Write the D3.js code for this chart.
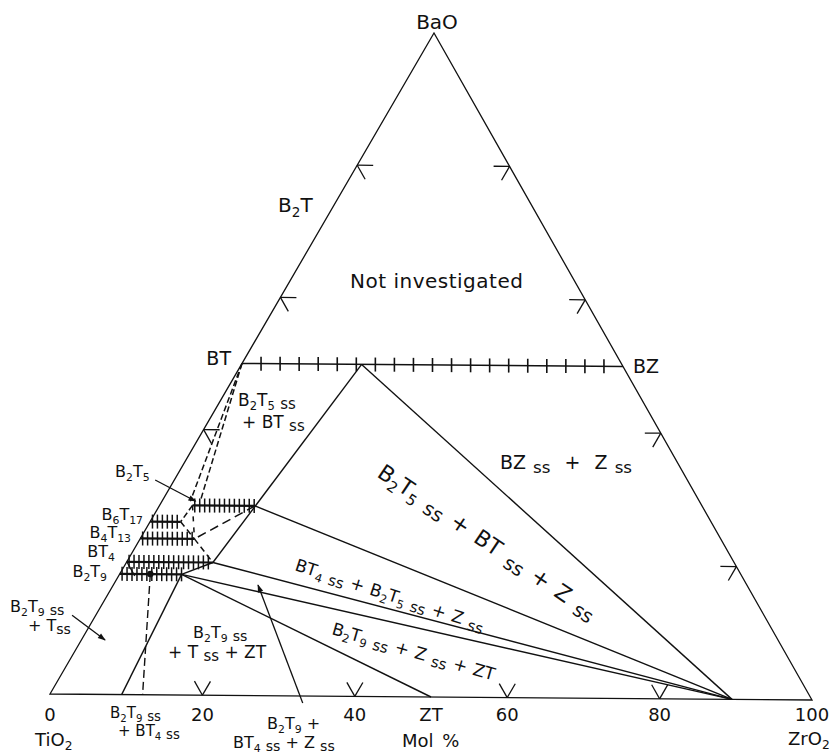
<!DOCTYPE html>
<html>
<head>
<meta charset="utf-8">
<script src="https://cdn.jsdelivr.net/npm/d3@7"></script>
<style>
  html, body { margin: 0; padding: 0; background: #fff; }
  svg text { font-family: "DejaVu Sans", "Liberation Sans", sans-serif; fill: #111; white-space: pre; }
</style>
</head>
<body>
<svg id="chart" width="836" height="756"></svg>
<script>
// ---- Data: compositions in mol% BaO and mol% ZrO2 (TiO2 is the balance) ----

// Bottom axis (ZrO2 content along the TiO2–ZrO2 join)
const axisValues = [0, 20, 40, 50, 60, 80, 100];
const axisLabels = ["0", "20", "40", "ZT", "60", "80", "100"];
// Grid stubs every 20 mol% on each side
const gridValues = [20, 40, 60, 80];

// Binary compounds on the BaO–TiO2 join and their ZrO2 solid-solution ranges
const phaseNames = ["B2T5", "B6T17", "B4T13", "BT4", "B2T9"];
const phaseBaO   = [28.57, 26.09, 23.53, 20.0, 18.18];
const phaseZrMin = [4.3, 0, 0, 0, 0];
const phaseZrMax = [12.5, 4.0, 7.1, 11.3, 8.1];

// Key compositions [BaO, ZrO2]
const ptBT = [50, 0];
const ptBZ = [50, 50];
const ptBTss = [50, 15.7];      // limit of BT solid solution
const ptZss = [0, 89.5];        // limit of ZrO2 solid solution
const ptZT = [0, 50];
const ptB2T9Base = [0, 9.4];
const ptB2T9Mid = [18.18, 4.0];
const ptDashBase = [0, 12.15];
const ptBTdashA = [29.2, 3.7];
const ptBTdashB = [29.2, 5.0];

// BT–BZ solid solution: ticks every 2.5 mol% ZrO2
const bzJoinTicks = d3.range(2.5, 50, 2.5);

// ---- Geometry ----
const cornerTiO2 = [50, 694], cornerZrO2 = [812, 700], cornerBaO = [434, 33];
const zScale = d3.scaleLinear().domain([0, 100]).range([cornerTiO2, cornerZrO2]);
const bScale = d3.scaleLinear().domain([0, 100])
  .range([[0, 0], [cornerBaO[0] - cornerTiO2[0], cornerBaO[1] - cornerTiO2[1]]]);
function proj(c) { const p = zScale(c[1]), o = bScale(c[0]); return [p[0] + o[0], p[1] + o[1]]; }

const phaseStart = i => [phaseBaO[i], phaseZrMin[i]];
const phaseEnd = i => [phaseBaO[i], phaseZrMax[i]];
const idx = n => phaseNames.indexOf(n);

const svg = d3.select("#chart");
const line = d3.line();
const ink = "#111";

svg.append("defs").append("marker")
  .attr("id", "arrow").attr("viewBox", "0 0 10 10").attr("refX", 9).attr("refY", 5)
  .attr("markerWidth", 11).attr("markerHeight", 8).attr("markerUnits", "userSpaceOnUse")
  .attr("orient", "auto")
  .append("path").attr("d", "M0,1.5 L10,5 L0,8.5 Z").attr("fill", ink);

function seg(a, b, opts = {}) {
  return svg.append("path")
    .attr("d", line([proj(a), proj(b)]))
    .attr("fill", "none").attr("stroke", ink)
    .attr("stroke-width", opts.w || 1.4)
    .attr("stroke-dasharray", opts.dash || null)
    .attr("marker-end", opts.arrow ? "url(#arrow)" : null);
}

// Triangle outline
svg.append("path")
  .attr("d", line([proj([0, 0]), proj([0, 100]), proj([100, 0])]) + "Z")
  .attr("fill", "none").attr("stroke", ink).attr("stroke-width", 1.3);

// Grid stubs on the three sides
const s = 2.1;
gridValues.forEach(v => {
  seg([v, 0], [v, s], { w: 1.3 });            // left side
  seg([v, 0], [v - s, s], { w: 1.3 });
  seg([v, 100 - v], [v, 100 - v - s], { w: 1.3 }); // right side
  seg([v, 100 - v], [v - s, 100 - v], { w: 1.3 });
  seg([0, v], [s, v - s], { w: 1.3 });        // base
  seg([0, v], [s, v], { w: 1.3 });
});

// BT–BZ join with solid-solution ticks
seg(ptBT, ptBZ, { w: 1.5 });
bzJoinTicks.forEach(z => {
  const p = proj([50, z]);
  svg.append("line").attr("x1", p[0]).attr("x2", p[0]).attr("y1", p[1] - 7).attr("y2", p[1] + 7)
    .attr("stroke", ink).attr("stroke-width", 1.6);
});

// Solid phase boundaries and tie lines
seg(ptBTss, phaseEnd(idx("BT4")));
seg(ptBTss, ptZss);
seg(phaseEnd(idx("B2T5")), ptZss);
seg(phaseEnd(idx("BT4")), ptZss);
seg(phaseEnd(idx("BT4")), phaseEnd(idx("B2T9")));
seg(phaseEnd(idx("B2T9")), ptZss);
seg(phaseEnd(idx("B2T9")), ptZT);
seg(phaseEnd(idx("B2T9")), ptB2T9Base);

// Dashed (tentative) boundaries
seg(ptBT, ptBTdashA, { dash: "6,3", w: 1.5 });
seg(ptBT, ptBTdashB, { dash: "6,3", w: 1.5 });
seg(phaseStart(idx("B2T5")), phaseEnd(idx("B6T17")), { dash: "6,3", w: 1.5 });
seg(phaseEnd(idx("B6T17")), phaseEnd(idx("B4T13")), { dash: "6,4", w: 1.5 });
seg(phaseStart(idx("B2T5")), phaseEnd(idx("B4T13")), { dash: "5,6", w: 1.5 });
seg(phaseEnd(idx("B2T5")), phaseEnd(idx("B4T13")), { dash: "9,5", w: 1.5 });
seg(phaseEnd(idx("B4T13")), phaseEnd(idx("BT4")), { dash: "6,4", w: 1.5 });
seg(ptB2T9Mid, ptDashBase, { dash: "8,4", w: 1.4 });

// Solid-solution ranges of the titanates (hatched bars)
phaseNames.forEach((n, i) => {
  seg(phaseStart(i), phaseEnd(i), { w: 2.2 });
  d3.range(phaseZrMin[i] + 0.3, phaseZrMax[i] + 0.01, 0.65).forEach(z => {
    const p = proj([phaseBaO[i], z]);
    svg.append("line").attr("x1", p[0]).attr("x2", p[0]).attr("y1", p[1] - 7).attr("y2", p[1] + 7)
      .attr("stroke", ink).attr("stroke-width", 1.5);
  });
});
{
  const p = proj(ptB2T9Mid);
  svg.append("circle").attr("cx", p[0]).attr("cy", p[1]).attr("r", 3.2).attr("fill", ink);
}

// Pointer arrows from labels
seg([32.35, -2.5], [29.2, 4.4], { arrow: true, w: 1.3 });
seg([11.9, -3.1], [8.2, 3.1], { arrow: true, w: 1.3 });
seg([-1.06, 33.7], [16.66, 18.9], { arrow: true, w: 1.3 });

// ---- Text ----
function rich(x, y, markup, size, opts = {}) {
  const t = svg.append("text").attr("x", x).attr("y", y).attr("font-size", size)
    .attr("text-anchor", opts.anchor || "start");
  if (opts.rotate) t.attr("transform", `rotate(${opts.rotate},${x},${y})`);
  if (opts.ls) t.attr("letter-spacing", opts.ls);
  if (opts.ws) t.attr("word-spacing", opts.ws);
  const re = /_\{([^}]*)\}|~\{([^}]*)\}|([^_~]+)/g;
  let m, cur = 0;
  while ((m = re.exec(markup)) !== null) {
    let txt, fs, shift;
    if (m[1] !== undefined) { txt = m[1]; fs = size * 0.68; shift = size * 0.24; }
    else if (m[2] !== undefined) { txt = m[2]; fs = size * 0.88; shift = size * 0.2; }
    else { txt = m[3]; fs = size; shift = 0; }
    t.append("tspan").attr("dy", shift - cur).attr("font-size", fs).text(txt);
    cur = shift;
  }
  return t;
}

// Axis labels along the base
axisValues.forEach((v, i) => {
  const p = zScale(v);
  rich(p[0], 721, axisLabels[i], 18, { anchor: "middle" });
});
rich(35, 746, "TiO_{2}", 18);
rich(788, 745, "ZrO_{2}", 18);
rich(402, 747, "Mol %", 18, { ws: 3 });
rich(437, 29, "BaO", 20, { anchor: "middle" });

// Compound labels
rich(278, 212, "B_{2}T", 20);
rich(231, 365, "BT", 19, { anchor: "end" });
rich(633, 373, "BZ", 19);
rich(115, 477, "B_{2}T_{5}", 16);
rich(143, 520, "B_{6}T_{17}", 16, { anchor: "end" });
rich(131, 538, "B_{4}T_{13}", 16, { anchor: "end" });
rich(115, 557, "BT_{4}", 16, { anchor: "end" });
rich(107, 577, "B_{2}T_{9}", 16, { anchor: "end" });

// Phase-field labels
rich(350, 288, "Not investigated", 20, { ls: 0.5 });
rich(238, 406, "B_{2}T_{5} ~{ss}", 17);
rich(242, 428, "+ BT ~{ss}", 17);
rich(500, 469, "BZ ~{ss}  +  Z ~{ss}", 19, { ws: 1 });
rich(10, 612, "B_{2}T_{9} ~{ss}", 16);
rich(28, 631, "+ T~{ss}", 16);
rich(193, 638, "B_{2}T_{9} ~{ss}", 16);
rich(168, 658, "+ T ~{ss} + ZT", 17);
rich(110, 718, "B_{2}T_{9} ~{ss}", 15);
rich(118, 736, "+ BT_{4} ~{ss}", 15);
rich(267, 729, "B_{2}T_{9} +", 16);
rich(233, 748, "BT_{4} ~{ss} + Z ~{ss}", 16);
rich(376, 476, "B_{2}T_{5} ~{ss} + BT ~{ss} + Z ~{ss}", 22, { rotate: 34, ws: 3 });
rich(294, 570, "BT_{4} ~{ss} + B_{2}T_{5} ~{ss} + Z ~{ss}", 17, { rotate: 18, ws: 1 });
rich(331, 634, "B_{2}T_{9} ~{ss} + Z ~{ss} + ZT", 17, { rotate: 16, ws: 1 });
</script>
</body>
</html>
